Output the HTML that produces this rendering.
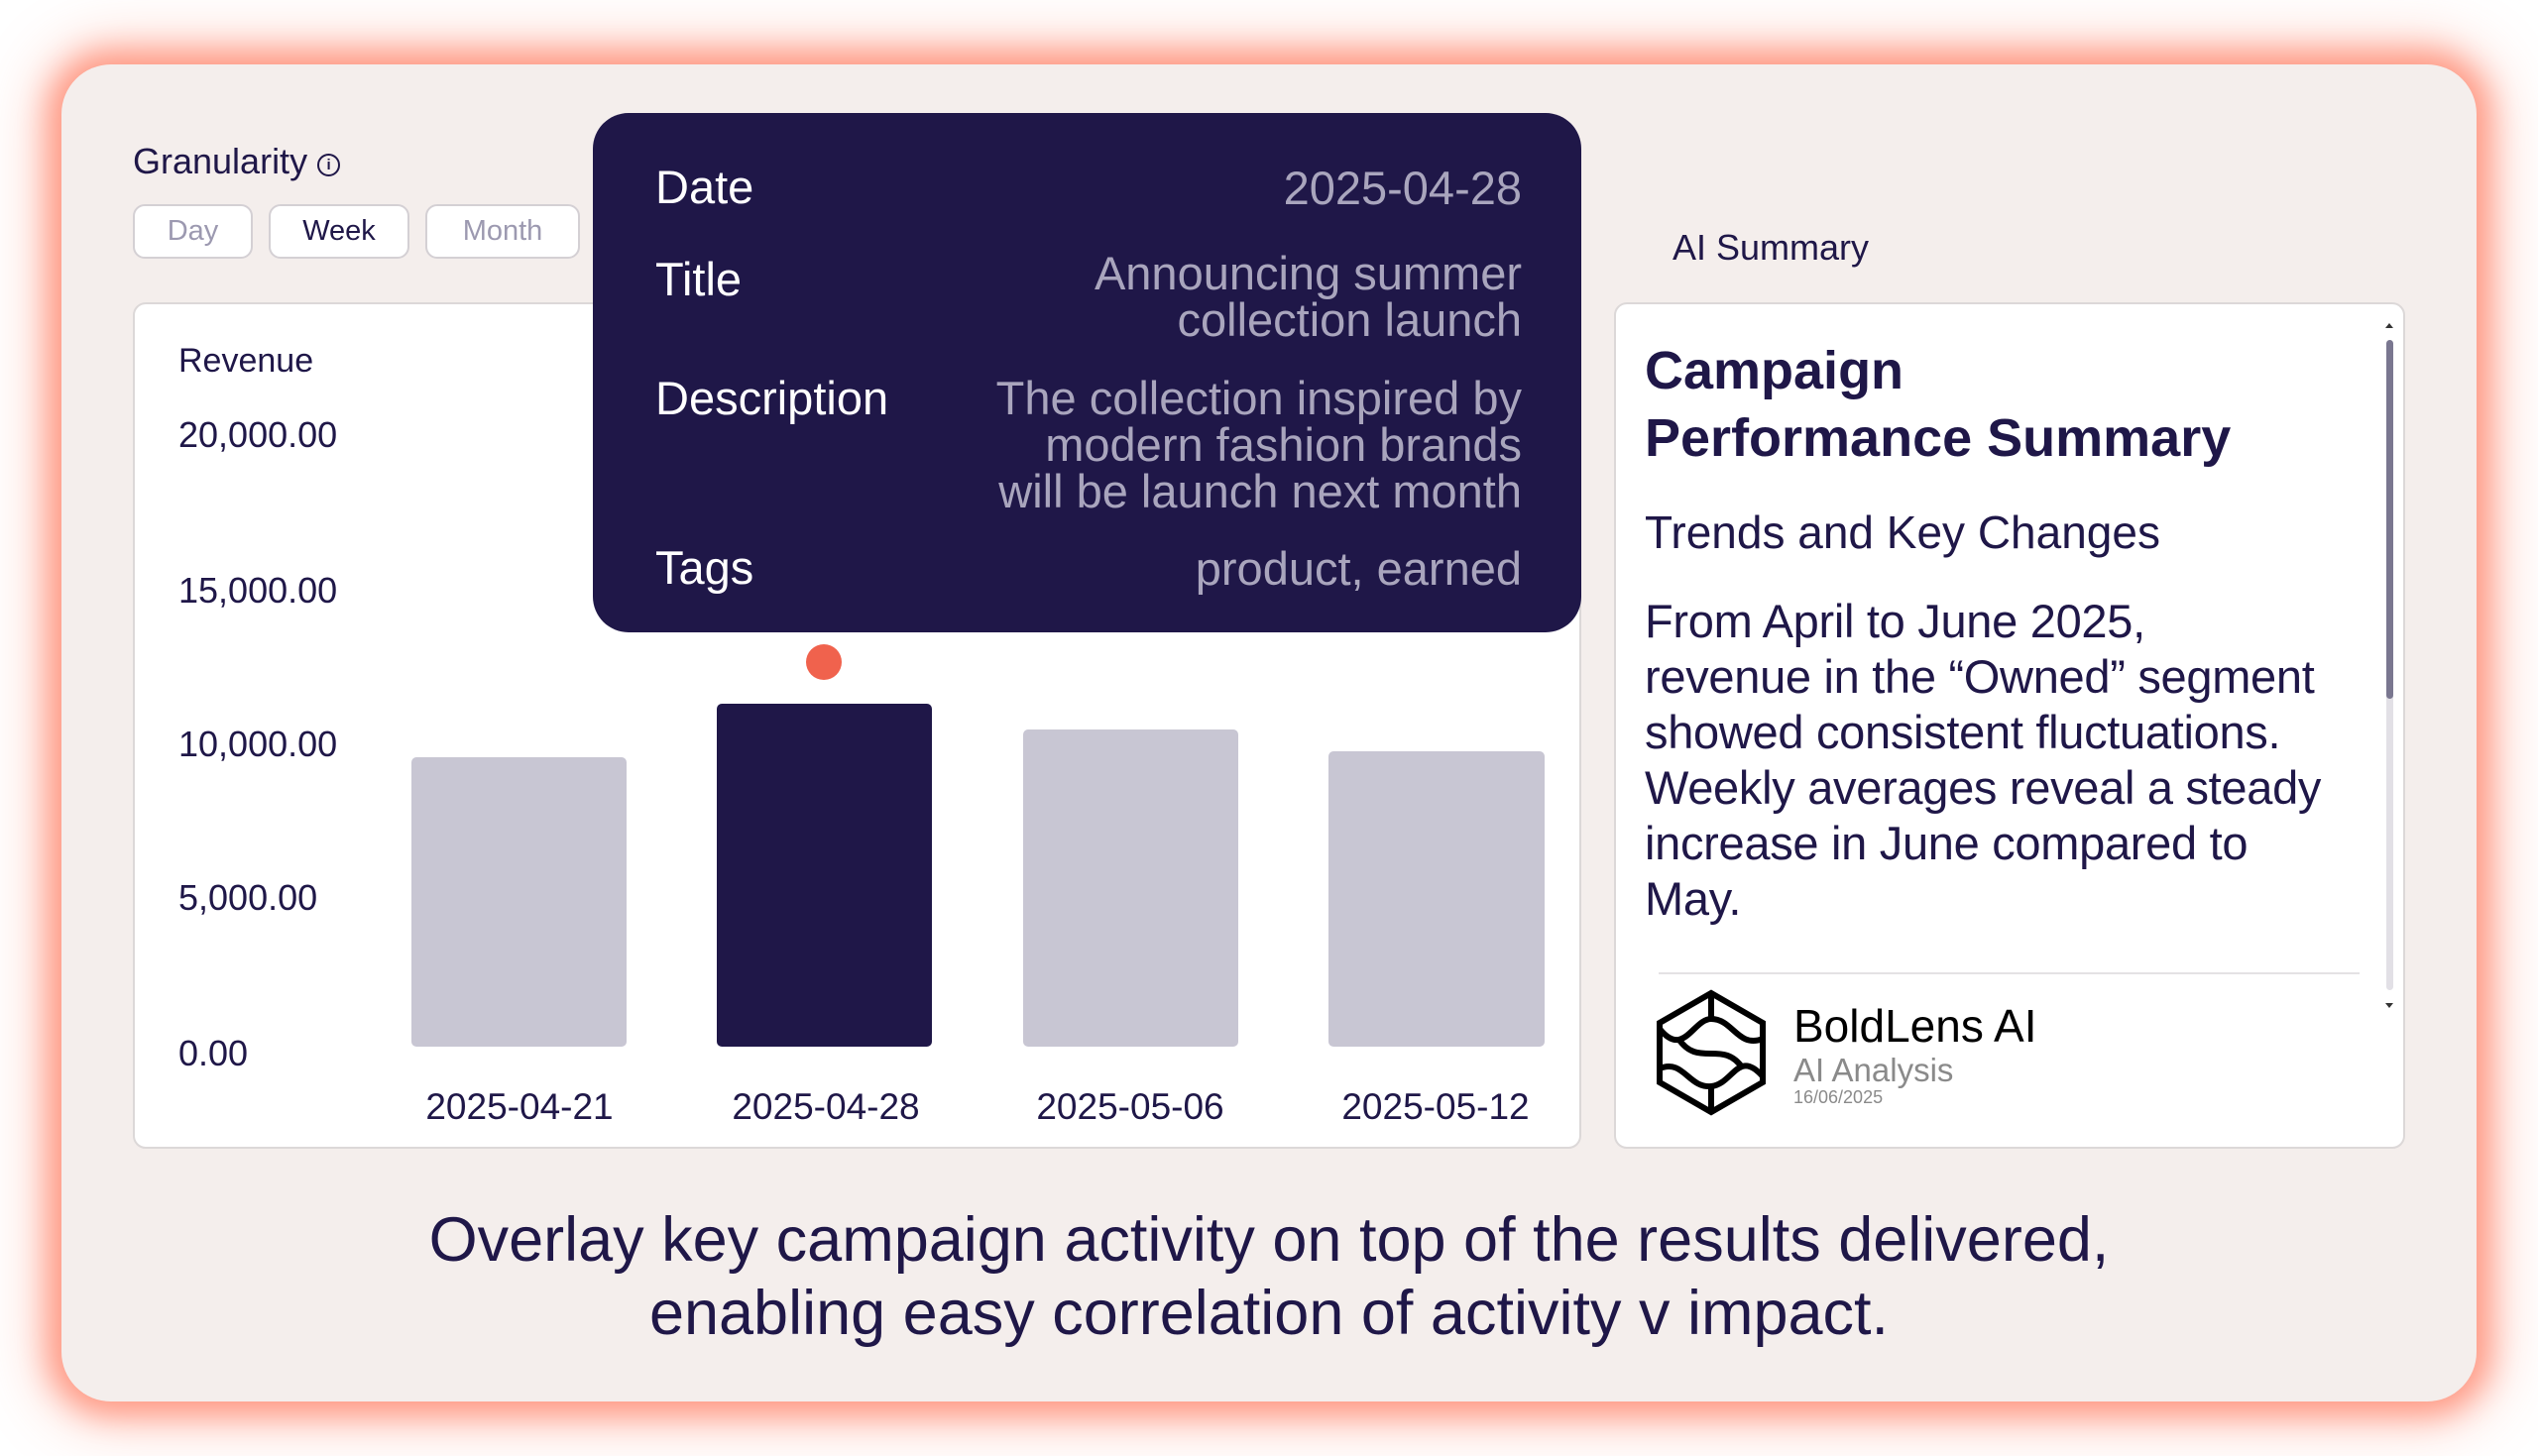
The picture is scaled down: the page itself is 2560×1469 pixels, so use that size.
<!DOCTYPE html>
<html><head><meta charset="utf-8">
<style>
*{margin:0;padding:0;box-sizing:border-box}
body{width:2560px;height:1469px;background:#fff;position:relative;overflow:hidden;font-family:"Liberation Sans",sans-serif;color:#1f1748}
.abs{position:absolute;white-space:nowrap}
#card{position:absolute;left:62px;top:65px;width:2436px;height:1349px;background:#f4eeec;border-radius:50px;box-shadow:0 0 30px 12px #ff9a85,0 0 60px 20px rgba(255,140,115,0.45)}
.btn{position:absolute;top:206px;height:55px;border:2px solid #d4d0d4;border-radius:12px;background:#fff;font-size:29px;line-height:51px;text-align:center;color:#9c99b0}
.panel{position:absolute;background:#fff;border:2px solid #dcd8d8;border-radius:13px}
.yl{position:absolute;left:180px;font-size:36px;line-height:40px}
.bar{position:absolute;background:#c8c6d3;border-radius:5px}
.xl{position:absolute;top:1097px;width:300px;font-size:37px;line-height:40px;text-align:center}
.tk{position:absolute;left:661px;font-size:47px;line-height:48px;color:#fff}
.tv{position:absolute;right:1025px;font-size:47px;line-height:47px;color:#a9a5bd;text-align:right}
</style></head><body>
<div id="card"></div>
<div class="abs" style="left:134px;top:143px;font-size:36px;line-height:40px">Granularity <span style="display:inline-block;width:23px;height:23px;border:2px solid #1f1748;border-radius:50%;font-size:15px;line-height:19px;text-align:center;vertical-align:4px;font-weight:bold">i</span></div>
<div class="btn" style="left:134px;width:121px">Day</div>
<div class="btn" style="left:271px;width:142px;color:#1f1748">Week</div>
<div class="btn" style="left:429px;width:156px">Month</div>

<div class="panel" style="left:134px;top:305px;width:1461px;height:854px"></div>
<div class="abs" style="left:180px;top:344px;font-size:34px;line-height:40px">Revenue</div>
<div class="yl" style="top:419px">20,000.00</div>
<div class="yl" style="top:576px">15,000.00</div>
<div class="yl" style="top:731px">10,000.00</div>
<div class="yl" style="top:886px">5,000.00</div>
<div class="yl" style="top:1043px">0.00</div>
<div class="bar" style="left:415px;top:764px;width:217px;height:292px"></div>
<div class="bar" style="left:723px;top:710px;width:217px;height:346px;background:#1f1748"></div>
<div class="bar" style="left:1032px;top:736px;width:217px;height:320px"></div>
<div class="bar" style="left:1340px;top:758px;width:218px;height:298px"></div>
<div class="abs" style="left:813px;top:650px;width:36px;height:36px;border-radius:50%;background:#f0624d"></div>
<div class="xl" style="left:374px">2025-04-21</div>
<div class="xl" style="left:683px">2025-04-28</div>
<div class="xl" style="left:990px">2025-05-06</div>
<div class="xl" style="left:1298px">2025-05-12</div>

<div class="abs" style="left:598px;top:114px;width:997px;height:524px;background:#1f1748;border-radius:36px"></div>
<div class="tk" style="top:165px">Date</div>
<div class="tk" style="top:258px">Title</div>
<div class="tk" style="top:378px">Description</div>
<div class="tk" style="top:549px">Tags</div>
<div class="tv" style="top:166px">2025-04-28</div>
<div class="tv" style="top:252px">Announcing summer<br>collection launch</div>
<div class="tv" style="top:378px">The collection inspired by<br>modern fashion brands<br>will be launch next month</div>
<div class="tv" style="top:550px">product, earned</div>

<div class="abs" style="left:1687px;top:230px;font-size:36px;line-height:40px">AI Summary</div>
<div class="panel" style="left:1628px;top:305px;width:798px;height:854px"></div>
<div class="abs" style="left:1659px;top:340px;font-size:54px;line-height:68px;font-weight:bold">Campaign<br>Performance Summary</div>
<div class="abs" style="left:1659px;top:512px;font-size:46px;line-height:50px">Trends and Key Changes</div>
<div class="abs" style="left:1659px;top:599px;font-size:47px;line-height:56px;letter-spacing:-0.3px">From April to June 2025,<br>revenue in the “Owned” segment<br>showed consistent fluctuations.<br>Weekly averages reveal a steady<br>increase in June compared to<br>May.</div>
<div class="abs" style="left:2407px;top:343px;width:7px;height:656px;background:#e2e0e6;border-radius:4px"></div>
<div class="abs" style="left:2407px;top:343px;width:7px;height:362px;background:#7a7790;border-radius:4px"></div>
<div class="abs" style="left:2406px;top:326px;width:0;height:0;border-left:4px solid transparent;border-right:4px solid transparent;border-bottom:5px solid #333"></div>
<div class="abs" style="left:2406px;top:1012px;width:0;height:0;border-left:4px solid transparent;border-right:4px solid transparent;border-top:5px solid #333"></div>
<div class="abs" style="left:1673px;top:981px;width:707px;height:2px;background:#e4e2e4"></div>
<svg class="abs" style="left:1668px;top:998px" width="116" height="128" viewBox="0 0 116 128">
<g fill="none" stroke="#000" stroke-width="6">
<polygon points="58,4 110,34 110,94 58,124 6,94 6,34"/>
<path d="M58,4 V30 M58,98 V124"/>
<path d="M6,40 C30,70 40,30 58,30 C80,30 85,60 110,50"/>
<path d="M6,80 C30,70 35,100 58,98 C80,96 85,60 110,88"/>
<path d="M25,50 C45,80 70,50 90,80"/>
</g></svg>
<div class="abs" style="left:1809px;top:1011px;font-size:46px;line-height:48px;color:#000">BoldLens AI</div>
<div class="abs" style="left:1809px;top:1062px;font-size:33px;line-height:36px;color:#8a8a8a">AI Analysis</div>
<div class="abs" style="left:1809px;top:1097px;font-size:18px;line-height:20px;color:#8a8a8a">16/06/2025</div>

<div class="abs" style="left:0;width:2560px;top:1214px;text-align:center;font-size:63px;line-height:74px">Overlay key campaign activity on top of the results delivered,<br>enabling easy correlation of activity v impact.</div>
</body></html>
